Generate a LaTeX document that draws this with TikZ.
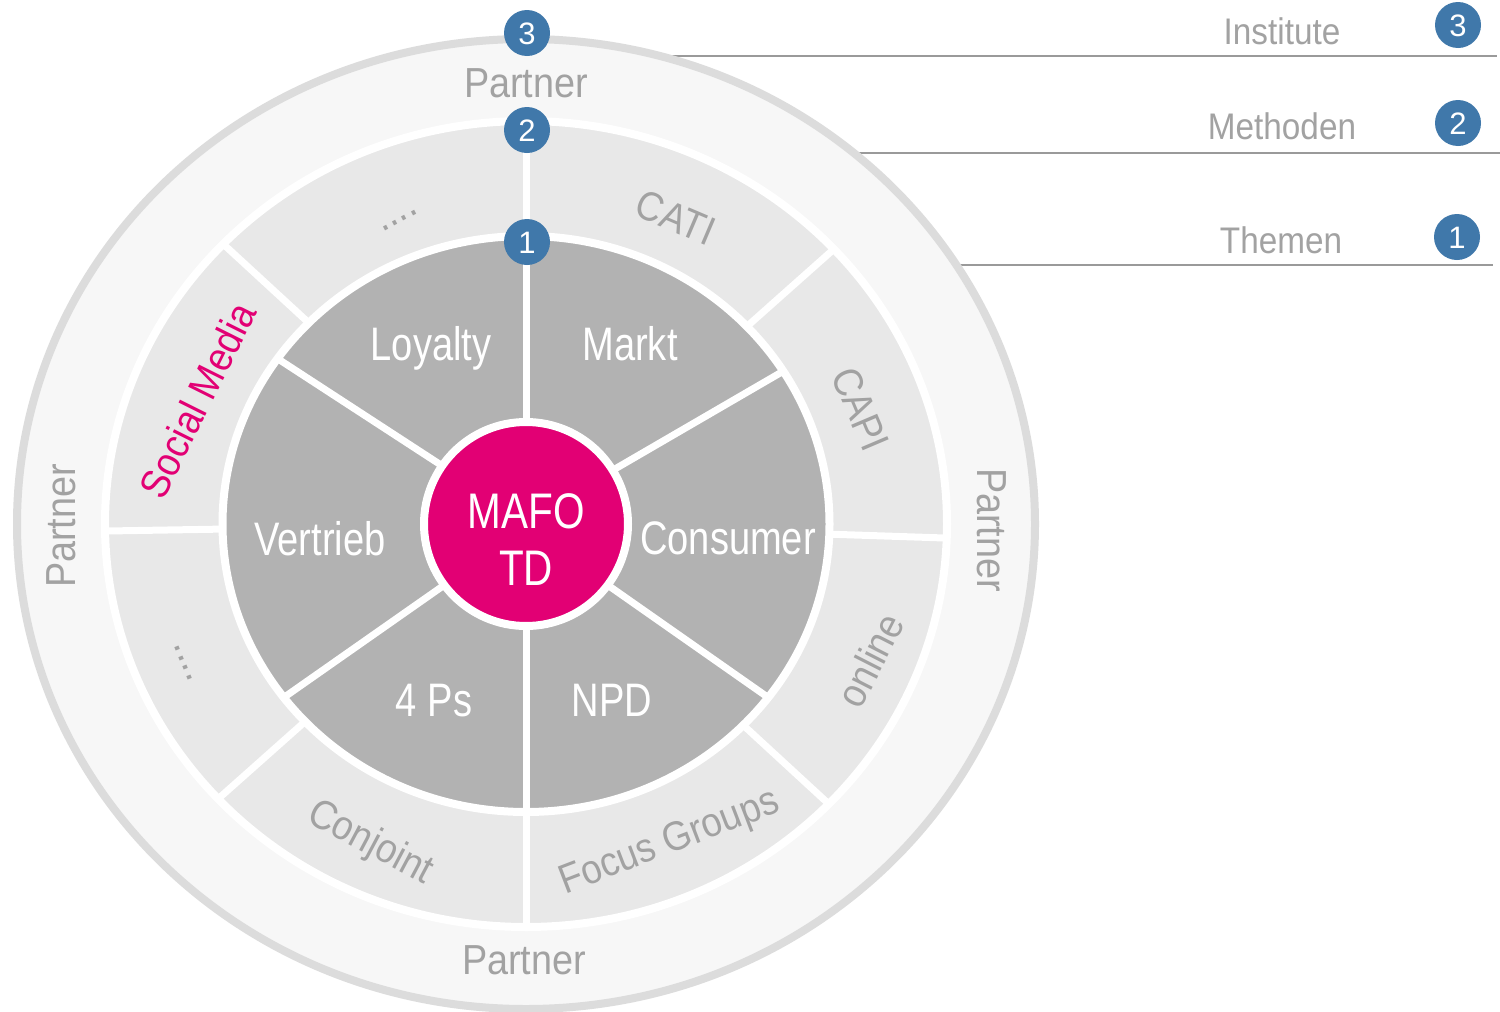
\documentclass[tikz,border=0pt]{standalone}
\usepackage{fontspec}
\setmainfont{Liberation Sans}
\newfontfamily\wideset[FakeStretch=0.9]{Liberation Sans}
\newfontfamily\narrowset[FakeStretch=0.81]{Liberation Sans}
\usetikzlibrary{calc}

\definecolor{tmagenta}{HTML}{E20074}
\definecolor{badgeblue}{RGB}{64,120,170}
\definecolor{ringdark}{HTML}{B2B2B2}
\definecolor{ringmid}{HTML}{E8E8E8}
\definecolor{ringout}{HTML}{F7F7F7}
\definecolor{rimgray}{HTML}{DCDCDC}
\definecolor{labelgray}{HTML}{A2A2A2}
\definecolor{rulegray}{HTML}{9A9A9A}

\tikzset{
  divider/.style={white, line width=7pt},
  themelabel/.style={text=white, font=\narrowset\fontsize{47}{50}\selectfont,
    inner sep=0pt, text height=33.6pt, text depth=0pt},
  centerlabel/.style={text=white, font=\narrowset\fontsize{50}{55}\selectfont,
    inner sep=0pt, text height=35.8pt, text depth=0pt},
  methodlabel/.style={text=labelgray, font=\wideset\fontsize{41}{45}\selectfont,
    inner sep=0pt, text height=29.4pt, text depth=0pt},
  dotlabel/.style={text=labelgray, font=\wideset\fontsize{42}{45}\selectfont,
    inner sep=0pt, text height=4pt, text depth=0pt},
  partnerlabel/.style={text=labelgray, font=\wideset\fontsize{42}{45}\selectfont,
    inner sep=0pt, text height=30pt, text depth=0pt},
  legendlabel/.style={text=labelgray, font=\wideset\fontsize{37}{40}\selectfont,
    inner sep=0pt, text height=26.5pt, text depth=0pt},
  badge/.style={circle, fill=badgeblue, text=white, minimum size=46pt, inner sep=0pt,
    font=\fontsize{31}{31}\selectfont, text height=22.2pt, text depth=0pt},
  legendrule/.style={rulegray, line width=2.5pt},
}

\begin{document}
\begin{tikzpicture}[x=1pt,y=1pt]
  % page
  \fill[white] (0,0) rectangle (1500,-1012);
  \useasboundingbox (0,0) rectangle (1500,-1012);

  \coordinate (C) at (526,-524);

  % legend rules, running out from behind the wheel
  \coordinate (r3s) at (600,-56);  \coordinate (r3e) at (1497,-56);
  \coordinate (r2s) at (700,-153); \coordinate (r2e) at (1500,-153);
  \coordinate (r1s) at (800,-265); \coordinate (r1e) at (1493,-265);
  \draw[legendrule] (r3s) -- (r3e);
  \draw[legendrule] (r2s) -- (r2e);
  \draw[legendrule] (r1s) -- (r1e);

  % outer band: partners
  \draw[rimgray, fill=ringout, line width=8pt]
    (C) ellipse [x radius=509pt, y radius=485pt];

  % middle band: methods
  \draw[white, fill=ringmid, line width=8pt]
    (C) ellipse [x radius=421pt, y radius=403pt];
  \foreach \a in {90,43,-2,-44,-90,223,181,136}
    \draw[divider] ($(C)+(\a:250pt and 240pt)$) -- ($(C)+(\a:423pt and 405pt)$);

  % inner band: topics
  \draw[white, fill=ringdark, line width=8pt]
    (C) ellipse [x radius=303.5pt, y radius=288pt];
  \foreach \a in {90,32,-37,-90,217,145}
    \draw[divider] ($(C)+(\a:90pt and 90pt)$) -- ($(C)+(\a:304pt and 289pt)$);

  % hub
  \draw[white, fill=tmagenta, line width=8pt] (C) circle [radius=102pt];

  % hub and topic labels
  \node[centerlabel] (mafo) at (526,-511) {MAFO};
  \node[centerlabel] (td) at (526,-568) {TD};
  \node[themelabel] (loyalty) at (431,-344) {Loyalty};
  \node[themelabel] (markt) at (630,-344) {Markt};
  \node[themelabel] (vertrieb) at (320,-539) {Vertrieb};
  \node[themelabel] (consumer) at (728,-538) {Consumer};
  \node[themelabel] (fourps) at (434,-700) {4 Ps};
  \node[themelabel] (npd) at (612,-700) {NPD};

  % method labels
  \node[methodlabel, rotate=-23] (cati) at (676,-217) {CATI};
  \node[methodlabel, rotate=-67] (capi) at (861,-409) {CAPI};
  \node[methodlabel, rotate=63] (online) at (870,-660) {online};
  \node[methodlabel, rotate=21] (focus) at (668,-839) {Focus Groups};
  \node[methodlabel, rotate=-28] (conjoint) at (372,-840) {Conjoint};
  \node[methodlabel, text=tmagenta, rotate=63.5] (social) at (197,-400) {Social Media};
  \node[dotlabel, rotate=28] (dotsa) at (400,-221) {....};
  \node[dotlabel, rotate=-68] (dotsb) at (183,-663) {....};

  % partner labels
  \node[partnerlabel] (ptop) at (526,-82) {Partner};
  \node[partnerlabel] (pbottom) at (524,-959) {Partner};
  \node[partnerlabel, rotate=90] (pleft) at (60,-526) {Partner};
  \node[partnerlabel, rotate=-90] (pright) at (992,-530) {Partner};

  % level badges on the wheel
  \node[badge] (b3) at (527,-33) {3};
  \node[badge] (b2) at (527,-130) {2};
  \node[badge] (b1) at (527,-242) {1};

  % legend
  \node[legendlabel] (institute) at (1282,-31.5) {Institute};
  \node[legendlabel] (methoden) at (1282,-126) {Methoden};
  \node[legendlabel] (themen) at (1281,-240) {Themen};
  \node[badge] (l3) at (1458,-25) {3};
  \node[badge] (l2) at (1458,-123) {2};
  \node[badge] (l1) at (1457,-237) {1};
\end{tikzpicture}
\end{document}
